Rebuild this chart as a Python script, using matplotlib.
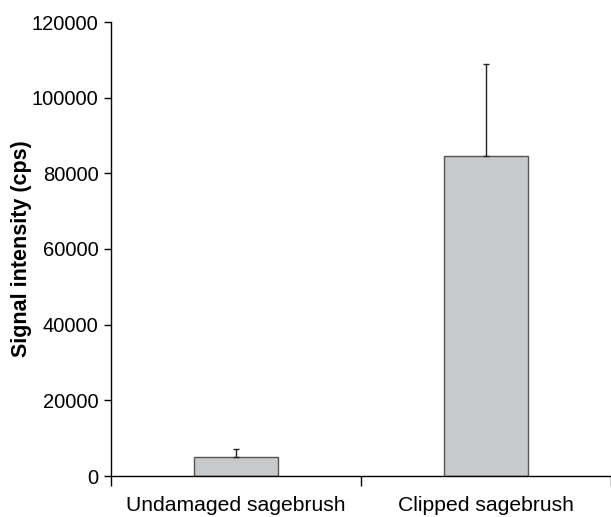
import matplotlib
matplotlib.use('Agg')
import numpy as np
import matplotlib.pyplot as plt

plt.rcParams['font.family'] = ['Liberation Sans', 'DejaVu Sans']

categories = ['Undamaged sagebrush', 'Clipped sagebrush']
signal = [4950, 84500]
err_up = [2100, 24300]

fig = plt.figure(figsize=(6.11, 5.17), dpi=100)
ax = fig.add_axes([111 / 611, 41 / 517, 500 / 611, 454 / 517])

x = np.arange(len(categories)) + 0.5
ax.bar(x, signal, width=0.336, color='#c8c9cb', edgecolor='#555555', linewidth=1.0, zorder=2)
ax.errorbar(x, signal, yerr=[np.zeros(len(err_up)), err_up], fmt='none',
            ecolor='#222222', elinewidth=1.0, capsize=2.5, capthick=1.0, zorder=3)

ax.set_xlim(0, 2)
ax.set_ylim(0, 120000)
ax.set_yticks(np.arange(0, 120001, 20000))
ax.set_xticks([0, 1, 2])
ax.set_xticklabels([])
ax.set_xticks(x, minor=True)
ax.set_xticklabels(categories, minor=True, fontsize=15.2)
ax.tick_params(axis='x', which='minor', length=0, pad=14.5)
ax.tick_params(axis='x', which='major', direction='out', length=7, width=1)
ax.tick_params(axis='y', direction='out', length=5, width=1, labelsize=14.5, pad=4)

ax.spines['top'].set_visible(False)
ax.spines['right'].set_visible(False)
ax.spines['left'].set_linewidth(1.0)
ax.spines['bottom'].set_linewidth(1.0)

ax.set_ylabel('Signal intensity (cps)', fontsize=15.5, fontweight='bold', va='center')
ax.yaxis.set_label_coords(-0.178, 0.5)

plt.savefig('out.png', dpi=100)
